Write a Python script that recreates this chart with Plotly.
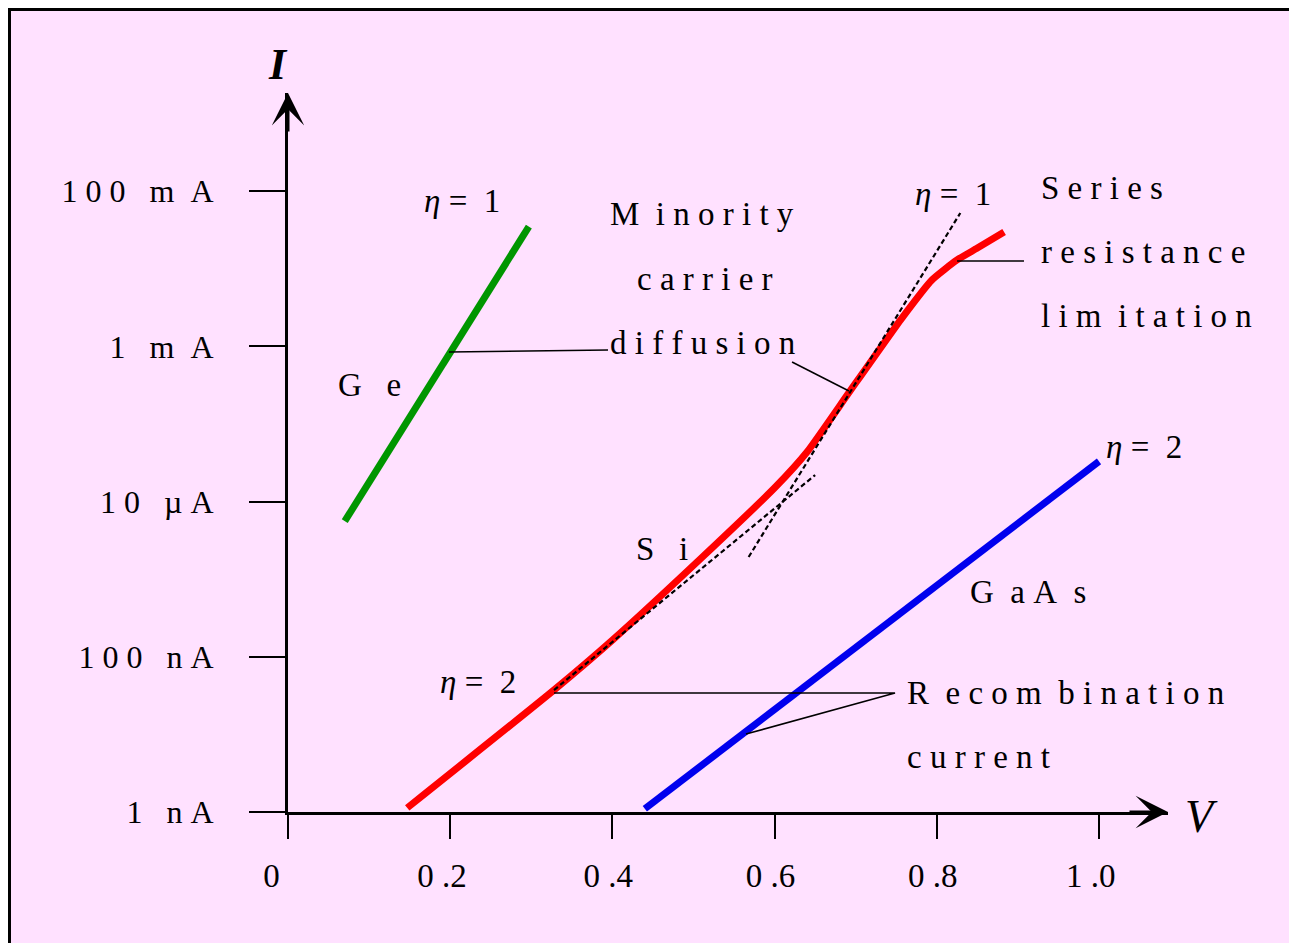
import math
import plotly.graph_objects as go

# ---------------- data ----------------
si_v = [0.147, 0.328, 0.400, 0.511, 0.601, 0.640, 0.693, 0.757, 0.794, 0.825, 0.850, 0.883]
si_i = [1.13e-9, 3.73e-8, 1.64e-7, 1.93e-6, 1.54e-5, 4.36e-5, 2.66e-4, 2.32e-3, 7.18e-3, 1.30e-2, 1.85e-2, 2.98e-2]

ge_v = [0.070, 0.297]
ge_i = [5.6e-6, 3.5e-2]

gaas_v = [0.440, 1.000]
gaas_i = [1.1e-9, 3.3e-5]

eta2_ext_v = [0.328, 0.650]
eta2_ext_i = [3.73e-8, 2.2e-5]
eta1_ext_v = [0.568, 0.829]
eta1_ext_i = [1.93e-6, 5.24e-2]

# leader lines
lead_ge_v = [0.1985, 0.3946]
lead_ge_i = [8.5e-4, 9.0e-4]
lead_diff_v = [0.6215, 0.6917]
lead_diff_i = [6.3e-4, 2.66e-4]
lead_series_v = [0.825, 0.9075]
lead_series_i = [1.26e-2, 1.26e-2]
lead_recomb_v = [0.328, 0.7485, 0.5647]
lead_recomb_i = [3.41e-8, 3.41e-8, 1.01e-8]

NB = "\u00a0"
x_tickvals = [0, 0.2, 0.4, 0.6, 0.8, 1.0]
x_ticktext = ["0" + NB * 4, "0" + NB + ".2" + NB * 2, "0" + NB + ".4" + NB,
              "0" + NB + ".6" + NB, "0" + NB + ".8" + NB, "1" + NB + ".0" + NB * 2]
y_tickvals = [1e-9, 1e-7, 1e-5, 1e-3, 1e-1]
y_ticktext = [
    "1" + NB * 3 + "n" + NB + "A",
    "1" + NB + "0" + NB + "0" + NB * 3 + "n" + NB + "A",
    "1" + NB + "0" + NB * 3 + "µ" + NB + "A",
    "1" + NB * 3 + "m" + NB * 2 + "A",
    "1" + NB + "0" + NB + "0" + NB * 3 + "m" + NB * 2 + "A",
]

# text labels: (text, V, I, xanchor)
labels = [
    ("<i>η</i>" + NB + "=" + NB + NB + "1", 0.2145, 10 ** -1.126, "center"),
    ("M" + NB * 2 + NB.join("inority"), 0.5105, 10 ** -1.294, "center"),
    (NB.join("carrier"), 0.514, 10 ** -2.131, "center"),
    (NB.join("diffusion"), 0.5105, 10 ** -2.956, "center"),
    ("G" + NB * 3 + "e", 0.0999, 10 ** -3.497, "center"),
    ("<i>η</i>" + NB + "=" + NB + NB + "1", 0.820, 10 ** -1.036, "center"),
    (NB.join("Series"), 0.926, 10 ** -0.959, "left"),
    (NB.join("resistance"), 0.926, 10 ** -1.784, "left"),
    (NB.join("lim") + NB * 2 + NB.join("itation"), 0.926, 10 ** -2.608, "left"),
    ("S" + NB * 3 + "i", 0.461, 10 ** -5.611, "center"),
    ("<i>η</i>" + NB + "=" + NB + NB + "2", 1.0555, 10 ** -4.296, "center"),
    ("G" + NB * 2 + "a" + NB + "A" + NB * 2 + "s", 0.9125, 10 ** -6.165, "center"),
    ("<i>η</i>" + NB + "=" + NB + NB + "2", 0.2343, 10 ** -7.325, "center"),
    ("R" + NB * 2 + NB.join("ecom") + NB * 2 + NB.join("bination"), 0.7608, 10 ** -7.467, "left"),
    (NB.join("current"), 0.7608, 10 ** -8.291, "left"),
]

FONT = "Liberation Serif"

# ---------------- figure ----------------
OFF = 8  # page body margin
W, H = 1297 - OFF, 943 - OFF
L, T = 280, 93 - OFF
PR, PB = 1168 - OFF, 812 - OFF  # plot right / bottom in figure px
R, B = W - PR, H - PB
x_range = [0, (PR - L) / 811.0]
y_range = [-9, -9 + (PB - T) / 77.6]

fig = go.Figure()

fig.add_trace(go.Scatter(x=ge_v, y=ge_i, mode="lines",
                         line=dict(color="#009600", width=7), hoverinfo="skip"))
fig.add_trace(go.Scatter(x=gaas_v, y=gaas_i, mode="lines",
                         line=dict(color="#0000EE", width=7), hoverinfo="skip"))
fig.add_trace(go.Scatter(x=si_v, y=si_i, mode="lines",
                         line=dict(color="#FF0000", width=7, shape="spline", smoothing=0.5),
                         hoverinfo="skip"))
for xv, yv in [(eta2_ext_v, eta2_ext_i), (eta1_ext_v, eta1_ext_i)]:
    fig.add_trace(go.Scatter(x=xv, y=yv, mode="lines",
                             line=dict(color="black", width=2.2, dash="5px,3px"),
                             hoverinfo="skip"))
for xv, yv in [(lead_ge_v, lead_ge_i), (lead_diff_v, lead_diff_i),
               (lead_series_v, lead_series_i), (lead_recomb_v, lead_recomb_i)]:
    fig.add_trace(go.Scatter(x=xv, y=yv, mode="lines",
                             line=dict(color="black", width=1.5), hoverinfo="skip"))

annotations = []
for text, v, i, xa in labels:
    annotations.append(dict(text=text, x=v, y=math.log10(i), xref="x", yref="y",
                            xanchor=xa, yanchor="middle", showarrow=False,
                            font=dict(family=FONT, size=33, color="black")))

pw, ph = W - L - R, H - T - B
def px2paper_x(px):  # page px -> paper
    return (px - OFF - L) / pw
def py2paper_y(py):
    return (H - B - (py - OFF)) / ph

# axis titles
annotations.append(dict(text="<b><i>I</i></b>", x=px2paper_x(278), y=py2paper_y(64),
                        xref="paper", yref="paper", xanchor="center", yanchor="middle",
                        showarrow=False, font=dict(family=FONT, size=44, color="black")))
annotations.append(dict(text="<i>V</i>", x=px2paper_x(1201), y=py2paper_y(816),
                        xref="paper", yref="paper", xanchor="center", yanchor="middle",
                        showarrow=False, font=dict(family=FONT, size=46, color="black")))
# axis arrowheads
annotations.append(dict(x=1, y=0, xref="paper", yref="paper", ax=-40, ay=0,
                        axref="pixel", ayref="pixel", text="", showarrow=True,
                        arrowhead=3, arrowsize=1.8, arrowwidth=3, arrowcolor="black"))
annotations.append(dict(x=0, y=1, xref="paper", yref="paper", ax=0, ay=40,
                        axref="pixel", ayref="pixel", text="", showarrow=True,
                        arrowhead=3, arrowsize=1.8, arrowwidth=3, arrowcolor="black"))

shapes = [dict(type="rect", xref="paper", yref="paper",
               x0=px2paper_x(9.5), x1=px2paper_x(1330),
               y0=py2paper_y(990), y1=py2paper_y(9.5),
               fillcolor="#FFE1FF", line=dict(color="black", width=3), layer="below")]

fig.update_layout(
    width=W, height=H, autosize=False,
    margin=dict(l=L, r=R, t=T, b=B, pad=0),
    paper_bgcolor="white", plot_bgcolor="rgba(0,0,0,0)",
    showlegend=False,
    annotations=annotations, shapes=shapes,
    xaxis=dict(range=x_range, showgrid=False, zeroline=False, showline=True,
               linecolor="black", linewidth=3, ticks="outside", ticklen=24,
               tickwidth=2, tickcolor="black", tickvals=x_tickvals, ticktext=x_ticktext,
               tickfont=dict(family=FONT, size=33, color="black"),
               ticklabelstandoff=8, automargin=False, fixedrange=True),
    yaxis=dict(type="log", range=y_range, showgrid=False, zeroline=False, showline=True,
               linecolor="black", linewidth=3, ticks="outside", ticklen=36,
               tickwidth=2, tickcolor="black", tickvals=y_tickvals, ticktext=y_ticktext,
               tickfont=dict(family=FONT, size=32, color="black"),
               ticklabelstandoff=29, automargin=False, fixedrange=True),
)

fig.write_html("out.html")
